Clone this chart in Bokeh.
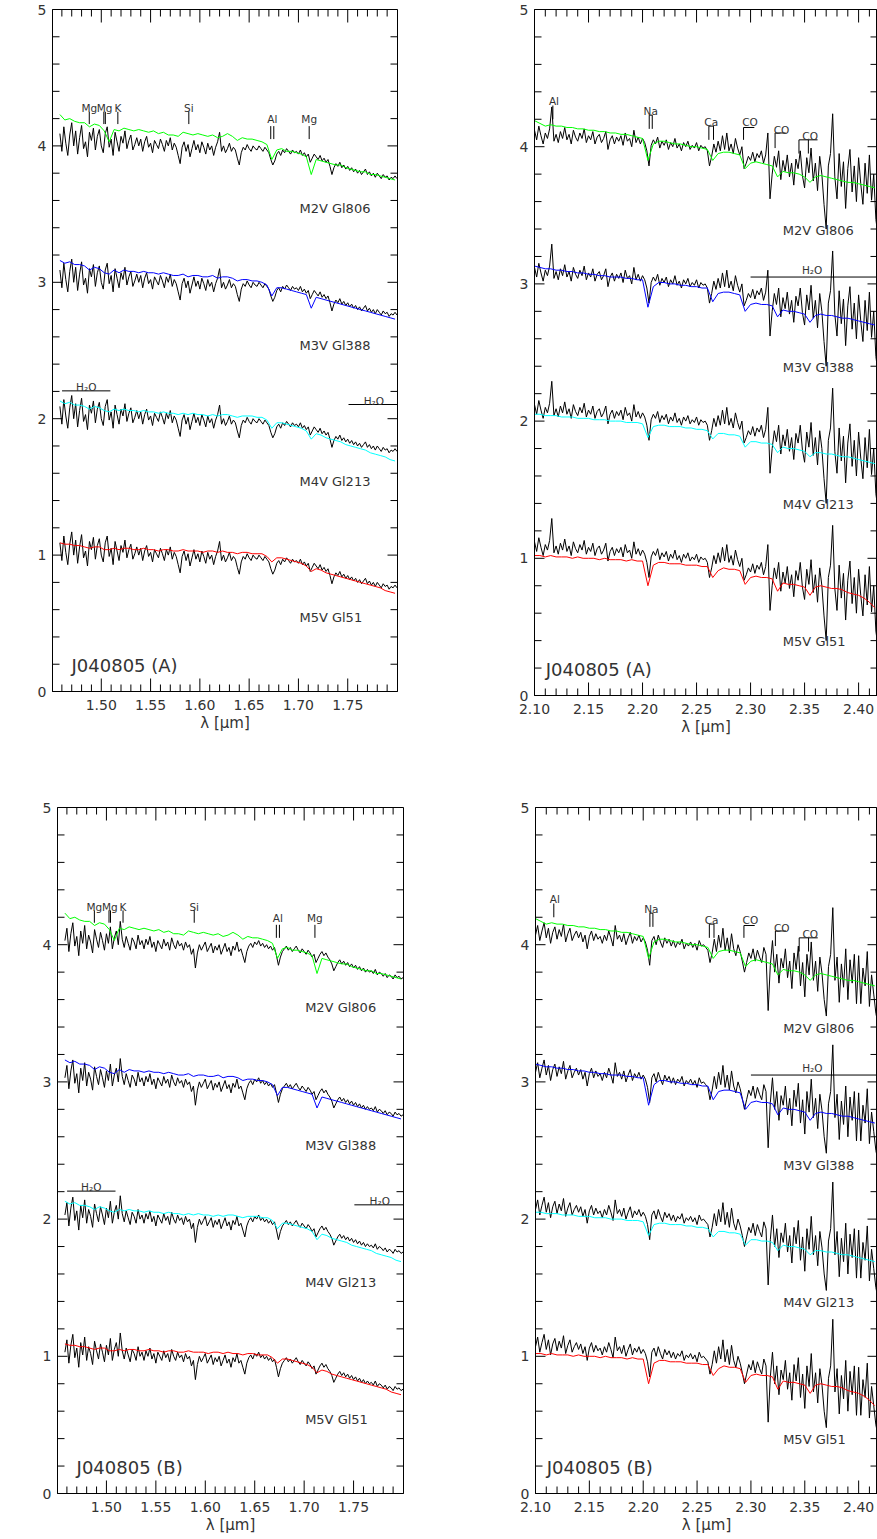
import numpy as np
from math import pi
from bokeh.plotting import figure
from bokeh.models import Range1d, FixedTicker, PrintfTickFormatter, Label
from bokeh.layouts import column, row
from bokeh.embed import file_html
from bokeh.resources import INLINE

# ------------------------------------------------------------------ data
STAR_NAMES = ["M2V  Gl806", "M3V  Gl388", "M4V  Gl213", "M5V  Gl51"]
STAR_COLORS = ["#00ff00", "#0000ff", "#00ffff", "#ff0000"]
STAR_OFFSETS = [3, 2, 1, 0]          # "+ const."
PANEL_TAGS = ["J040805 (A)", "J040805 (B)"]

H_TICKS = [1.50, 1.55, 1.60, 1.65, 1.70, 1.75]
K_TICKS = [2.10, 2.15, 2.20, 2.25, 2.30, 2.35, 2.40]
Y_TICKS = [0, 1, 2, 3, 4, 5]

# wavelength sampling (micron)
H_OBJ_START, H_OBJ_STEP, H_OBJ_N = 1.458, 0.002, 172
K_OBJ_START, K_OBJ_STEP, K_OBJ_N = 2.100, 0.002, 160
H_TPL_START, H_TPL_STEP, H_TPL_N = 1.458, 0.005, 69
K_TPL_START, K_TPL_STEP, K_TPL_N = 2.100, 0.005, 64

# object spectrum J040805, H band (normalised)
obj_H_A = [1.09, 0.96, 1.14, 1.02, 0.93, 1.08, 1.17, 1.00, 1.11, 0.94,
           1.06, 1.15, 0.98, 1.03, 0.92, 1.10, 1.04, 1.13, 0.97, 1.07,
           1.12, 1.00, 0.95, 1.09, 1.14, 0.99, 1.05, 0.93, 1.10, 1.03,
           0.96, 1.07, 1.02, 1.11, 0.98, 1.04, 1.08, 0.97, 1.01, 1.06,
           1.00, 1.05, 0.96, 1.03, 1.07, 0.99, 1.02, 0.95, 1.04, 1.01,
           0.98, 1.05, 1.01, 0.96, 1.04, 1.00, 1.06, 0.97, 1.02, 0.99,
           0.93, 0.87, 0.99, 1.03, 0.96, 1.01, 0.92, 0.98, 1.04, 0.97,
           1.01, 0.95, 1.03, 0.99, 0.94, 1.02, 0.97, 1.00, 0.93, 0.99,
           1.03, 1.10, 0.96, 1.00, 0.95, 0.98, 1.02, 0.96, 0.99, 0.97,
           0.91, 0.86, 0.95, 0.99, 0.97, 1.01, 0.98, 0.96, 1.00, 0.98,
           0.97, 1.00, 0.98, 0.96, 0.99, 0.97, 0.95, 0.90, 0.86, 0.89,
           0.94, 0.96, 0.93, 0.97, 0.95, 0.98, 0.96, 0.94, 0.97, 0.95,
           0.96, 0.94, 0.97, 0.93, 0.95, 0.92, 0.94, 0.88, 0.91, 0.94,
           0.92, 0.90, 0.93, 0.89, 0.91, 0.88, 0.90, 0.85, 0.79, 0.84,
           0.87, 0.85, 0.88, 0.84, 0.86, 0.83, 0.85, 0.82, 0.84, 0.81,
           0.83, 0.80, 0.82, 0.79, 0.81, 0.83, 0.79, 0.81, 0.78, 0.80,
           0.77, 0.80, 0.78, 0.76, 0.79, 0.77, 0.78, 0.75, 0.77, 0.76,
           0.78, 0.76]
obj_H_B = [1.03, 1.12, 0.95, 1.08, 1.16, 0.99, 1.06, 0.92, 1.10, 1.01,
           1.14, 0.97, 1.07, 1.02, 0.94, 1.11, 1.04, 0.98, 1.09, 1.03,
           0.96, 1.08, 1.01, 1.13, 0.97, 1.05, 1.10, 1.00, 1.17, 1.04,
           0.98, 1.06, 1.01, 0.96, 1.05, 1.02, 0.97, 1.07, 1.00, 1.03,
           0.97, 1.04, 1.00, 1.06, 0.98, 1.02, 0.95, 1.03, 1.00, 0.97,
           1.04, 0.99, 1.02, 0.96, 1.05, 1.00, 0.97, 1.03, 0.99, 1.01,
           0.96, 1.02, 0.98, 1.00, 0.93, 0.97, 0.83, 0.94, 1.00, 0.96,
           0.99, 1.02, 0.95, 0.98, 1.01, 0.94, 0.99, 0.96, 1.00, 0.93,
           0.97, 1.01, 0.95, 0.98, 0.92, 0.99, 0.96, 1.02, 0.95, 0.97,
           0.92, 0.87, 0.95, 0.99, 1.01, 0.98, 1.02, 1.00, 1.03, 0.99,
           1.01, 0.98, 1.00, 0.97, 0.99, 0.96, 0.98, 0.92, 0.85, 0.91,
           0.95, 0.97, 0.99, 0.96, 0.98, 0.95, 0.97, 0.99, 0.96, 0.94,
           0.97, 0.95, 0.93, 0.96, 0.94, 0.91, 0.93, 0.87, 0.90, 0.93,
           0.95, 0.92, 0.94, 0.91, 0.89, 0.86, 0.81, 0.84, 0.87, 0.89,
           0.86, 0.88, 0.85, 0.87, 0.84, 0.86, 0.83, 0.85, 0.82, 0.84,
           0.81, 0.83, 0.80, 0.82, 0.80, 0.81, 0.79, 0.82, 0.78, 0.80,
           0.79, 0.77, 0.79, 0.76, 0.78, 0.77, 0.75, 0.78, 0.76, 0.77,
           0.75, 0.76]
# object spectrum, K band
obj_K_A = [1.12, 1.05, 1.15, 1.08, 1.02, 1.10, 1.06, 1.13, 1.29, 1.04,
           1.09, 1.03, 1.11, 1.06, 1.14, 1.05, 1.09, 1.02, 1.12, 1.07,
           1.04, 1.10, 1.06, 1.13, 1.03, 1.08, 1.05, 1.11, 1.02, 1.07,
           1.09, 1.03, 1.06, 1.11, 0.98, 1.05, 1.08, 1.02, 1.07, 1.04,
           1.08, 1.01, 1.10, 1.04, 1.06, 1.00, 1.12, 1.03, 1.07, 1.02,
           1.06, 1.03, 0.97, 0.86, 1.01, 1.05, 1.02, 1.07, 0.99, 1.04,
           1.01, 1.05, 0.98, 1.03, 1.00, 1.06, 0.99, 1.02, 0.97, 1.03,
           1.00, 1.04, 0.98, 1.01, 0.99, 1.03, 0.97, 1.01, 0.99, 1.00,
           0.97, 0.86, 0.93, 1.02, 0.96, 1.04, 0.97, 1.08, 0.98, 1.10,
           0.97, 1.02, 0.95, 1.06, 0.99, 0.94, 1.00, 0.84, 0.88, 0.93,
           0.90, 0.96, 0.89, 0.95, 0.92, 0.97, 0.88, 0.94, 1.10, 0.62,
           0.80, 0.93, 0.85, 0.97, 0.76, 0.90, 0.82, 0.94, 0.78, 0.88,
           0.72, 0.91, 0.84, 0.97, 0.79, 0.70, 0.92, 0.81, 0.99, 0.75,
           0.88, 0.68, 0.93, 0.80, 0.58, 0.40, 0.86, 0.95, 1.24, 0.78,
           0.62, 0.95, 0.71, 0.89, 0.55, 0.84, 0.98, 0.67, 0.86, 0.60,
           0.92, 0.73, 0.58, 0.88, 0.66, 0.94, 0.61, 0.80, 0.47, 0.35]
obj_K_B = [1.07, 1.14, 1.03, 1.10, 1.16, 1.05, 1.12, 1.01, 1.09, 1.13,
           1.04, 1.11, 1.06, 1.15, 1.02, 1.08, 1.12, 1.03, 1.07, 1.10,
           1.05, 1.09, 1.02, 1.07, 0.97, 1.06, 1.10, 1.03, 1.08, 1.04,
           1.06, 1.01, 1.07, 1.03, 1.10, 1.05, 0.99, 1.14, 1.04, 1.07,
           1.02, 1.08, 1.00, 1.05, 1.09, 1.01, 1.06, 1.03, 1.07, 1.02,
           1.05, 1.02, 0.96, 0.85, 1.03, 1.06, 1.00, 1.07, 1.02, 0.98,
           1.05, 1.01, 1.04, 0.99, 1.03, 0.98, 1.02, 1.00, 1.04, 0.97,
           1.01, 0.99, 1.02, 0.98, 1.01, 0.96, 1.03, 0.99, 1.00, 0.98,
           0.96, 0.87, 0.94, 1.04, 0.95, 1.07, 0.98, 1.12, 0.96, 1.05,
           0.94, 1.08, 0.97, 0.92, 1.00, 0.95, 0.88, 0.80, 0.87, 0.94,
           0.90, 0.97, 0.88, 0.96, 0.91, 0.87, 0.98, 0.93, 0.52, 0.85,
           1.03, 0.80, 0.93, 0.72, 0.90, 0.83, 0.97, 0.76, 0.88, 0.68,
           0.94, 0.82, 0.99, 0.70, 0.87, 0.62, 0.93, 0.78, 1.02, 0.74,
           0.88, 0.66, 0.91, 0.79, 0.60, 0.48, 0.84, 0.93, 1.27, 0.74,
           0.91, 0.58, 0.86, 0.69, 0.97, 0.60, 0.89, 0.72, 0.93, 0.57,
           0.92, 0.57, 0.83, 0.70, 0.95, 0.55, 0.78, 0.64, 0.50, 0.42]

# template stars, H band
tpl_H_M2V = [1.23, 1.19, 1.20, 1.18, 1.17, 1.17, 1.14, 1.16, 1.15, 1.11,
             1.03, 1.12, 1.11, 1.13, 1.12, 1.11, 1.12, 1.11, 1.10, 1.11,
             1.09, 1.10, 1.08, 1.08, 1.07, 1.10, 1.09, 1.08, 1.09, 1.08,
             1.07, 1.08, 1.06, 1.07, 1.09, 1.07, 1.04, 1.06, 1.05, 1.05,
             1.04, 1.03, 1.01, 0.90, 0.97, 0.98, 0.96, 0.96, 0.95, 0.94,
             0.92, 0.79, 0.90, 0.89, 0.88, 0.87, 0.86, 0.86, 0.84, 0.83,
             0.82, 0.81, 0.81, 0.79, 0.79, 0.78, 0.77, 0.76, 0.75]
tpl_H_M3V = [1.16, 1.14, 1.15, 1.13, 1.13, 1.12, 1.09, 1.11, 1.10, 1.07,
             1.06, 1.09, 1.07, 1.09, 1.08, 1.08, 1.07, 1.08, 1.07, 1.07,
             1.06, 1.07, 1.06, 1.05, 1.05, 1.06, 1.04, 1.05, 1.05, 1.04,
             1.04, 1.05, 1.03, 1.04, 1.04, 1.03, 1.01, 1.02, 1.02, 1.01,
             1.01, 1.00, 0.98, 0.90, 0.96, 0.96, 0.95, 0.94, 0.93, 0.92,
             0.91, 0.81, 0.89, 0.88, 0.87, 0.86, 0.85, 0.84, 0.83, 0.82,
             0.81, 0.80, 0.79, 0.78, 0.77, 0.76, 0.75, 0.74, 0.73]
tpl_H_M4V = [1.13, 1.11, 1.12, 1.10, 1.10, 1.09, 1.07, 1.09, 1.08, 1.06,
             1.05, 1.07, 1.06, 1.07, 1.06, 1.06, 1.05, 1.06, 1.05, 1.05,
             1.04, 1.05, 1.04, 1.04, 1.03, 1.04, 1.03, 1.04, 1.03, 1.03,
             1.02, 1.03, 1.02, 1.03, 1.03, 1.02, 1.01, 1.02, 1.02, 1.02,
             1.01, 1.01, 0.99, 0.93, 0.97, 0.97, 0.96, 0.95, 0.94, 0.93,
             0.91, 0.85, 0.89, 0.88, 0.86, 0.85, 0.84, 0.83, 0.81, 0.80,
             0.79, 0.78, 0.77, 0.75, 0.74, 0.73, 0.72, 0.70, 0.69]
tpl_H_M5V = [1.09, 1.08, 1.08, 1.07, 1.07, 1.06, 1.05, 1.06, 1.06, 1.04,
             1.04, 1.05, 1.04, 1.05, 1.05, 1.04, 1.04, 1.05, 1.04, 1.04,
             1.03, 1.04, 1.04, 1.03, 1.03, 1.04, 1.03, 1.03, 1.03, 1.02,
             1.03, 1.03, 1.02, 1.03, 1.02, 1.02, 1.01, 1.02, 1.02, 1.01,
             1.01, 1.01, 0.99, 0.95, 0.98, 0.98, 0.97, 0.96, 0.95, 0.94,
             0.92, 0.88, 0.90, 0.89, 0.87, 0.86, 0.85, 0.84, 0.83, 0.82,
             0.81, 0.80, 0.79, 0.78, 0.77, 0.76, 0.74, 0.73, 0.72]
# template stars, K band
tpl_K_M2V = [1.19, 1.17, 1.15, 1.16, 1.15, 1.15, 1.14, 1.14, 1.13, 1.13,
             1.12, 1.12, 1.11, 1.11, 1.10, 1.10, 1.09, 1.09, 1.08, 1.07,
             1.06, 0.90, 1.02, 1.04, 1.04, 1.03, 1.02, 1.02, 1.01, 1.00,
             1.00, 0.99, 0.98, 0.90, 0.95, 0.96, 0.96, 0.95, 0.94, 0.84,
             0.88, 0.89, 0.88, 0.87, 0.86, 0.78, 0.82, 0.81, 0.81, 0.80,
             0.78, 0.74, 0.78, 0.79, 0.78, 0.77, 0.76, 0.75, 0.74, 0.74,
             0.73, 0.72, 0.71, 0.70]
tpl_K_M3V = [1.13, 1.12, 1.11, 1.11, 1.10, 1.10, 1.09, 1.09, 1.08, 1.08,
             1.07, 1.07, 1.06, 1.06, 1.05, 1.05, 1.05, 1.04, 1.04, 1.03,
             1.03, 0.83, 0.98, 1.01, 1.01, 1.00, 1.00, 0.99, 0.99, 0.98,
             0.98, 0.97, 0.97, 0.87, 0.93, 0.94, 0.94, 0.93, 0.92, 0.80,
             0.85, 0.86, 0.85, 0.85, 0.84, 0.76, 0.81, 0.80, 0.80, 0.79,
             0.78, 0.72, 0.77, 0.78, 0.77, 0.77, 0.76, 0.75, 0.75, 0.74,
             0.73, 0.72, 0.71, 0.70]
tpl_K_M4V = [1.05, 1.05, 1.04, 1.04, 1.04, 1.03, 1.03, 1.03, 1.02, 1.02,
             1.02, 1.01, 1.01, 1.01, 1.00, 1.00, 1.00, 0.99, 0.99, 0.99,
             0.98, 0.88, 0.96, 0.97, 0.97, 0.96, 0.96, 0.96, 0.95, 0.95,
             0.94, 0.94, 0.93, 0.87, 0.91, 0.91, 0.90, 0.90, 0.89, 0.81,
             0.85, 0.85, 0.84, 0.84, 0.83, 0.77, 0.81, 0.80, 0.80, 0.79,
             0.78, 0.74, 0.77, 0.77, 0.76, 0.76, 0.75, 0.74, 0.74, 0.73,
             0.72, 0.71, 0.70, 0.69]
tpl_K_M5V = [1.02, 1.02, 1.01, 1.02, 1.01, 1.01, 1.01, 1.00, 1.01, 1.00,
             1.00, 1.00, 0.99, 1.00, 0.99, 0.99, 0.99, 0.98, 0.99, 0.98,
             0.98, 0.80, 0.95, 0.97, 0.97, 0.96, 0.96, 0.96, 0.95, 0.95,
             0.95, 0.94, 0.94, 0.86, 0.91, 0.93, 0.92, 0.92, 0.91, 0.81,
             0.86, 0.87, 0.86, 0.86, 0.85, 0.76, 0.82, 0.81, 0.81, 0.80,
             0.79, 0.73, 0.79, 0.80, 0.79, 0.78, 0.78, 0.77, 0.75, 0.74,
             0.73, 0.71, 0.68, 0.64]

TPL_H = [tpl_H_M2V, tpl_H_M3V, tpl_H_M4V, tpl_H_M5V]
TPL_K = [tpl_K_M2V, tpl_K_M3V, tpl_K_M4V, tpl_K_M5V]

# line identifications (name, wavelengths in micron)
H_FEATURES_1 = [("Mg", [1.4878]), ("Mg", [1.5026, 1.5041]), ("K", [1.5168]), ("Si", [1.5888])]
H_FEATURES_2 = [("Al", [1.6719, 1.6750]), ("Mg", [1.7109])]
H2O_H = [(1.4602, 1.5092), (1.7508, 1.8005)]
K_AL = 2.1170
K_NA = [2.2062, 2.2090]
K_CA = [2.2614, 2.2657]
K_CO = [[2.2935], [2.3227], [2.3448, 2.3535]]
H2O_K = (2.30, 2.4175)

# ------------------------------------------------------------------ style
FONT = "DejaVu Sans"
TXT = "#333333"


def lab(p, x, y, text, size, align="left", baseline="alphabetic", angle=0.0):
    p.add_layout(Label(x=x, y=y, text=text, text_font=FONT, text_font_size=size,
                       text_color=TXT, text_align=align, text_baseline=baseline,
                       angle=angle))


def make_panel(band, obj, tag, fw, fh, bl, br, bt, bb, ylab_dx):
    isH = band == "H"
    x0, x1 = (1.4505, 1.8005) if isH else (2.10, 2.4175)
    p = figure(frame_width=fw, frame_height=fh,
               x_range=Range1d(x0, x1), y_range=Range1d(0, 5),
               output_backend="svg", toolbar_location=None,
               min_border_left=bl, min_border_right=br,
               min_border_top=bt, min_border_bottom=bb,
               background_fill_color="white", border_fill_color="white",
               outline_line_color="black", outline_line_width=1)
    p.grid.visible = False
    xpp = (x1 - x0) / fw
    ypp = 5.0 / fh

    majors = H_TICKS if isH else K_TICKS
    if isH:
        minors = [round(1.46 + 0.01 * i, 2) for i in range(34)]
    else:
        minors = [round(2.11 + 0.01 * i, 2) for i in range(31)]
    yminors = [round(0.2 * i, 1) for i in range(1, 25) if i % 5]
    xminors = [m for m in minors if all(abs(m - t) > 1e-6 for t in majors)]

    def style(ax):
        ax.major_tick_in = 0
        ax.major_tick_out = 0
        ax.minor_tick_in = 0
        ax.minor_tick_out = 0
        ax.axis_line_color = "black"
        ax.major_label_text_font = FONT
        ax.major_label_text_font_size = "14px"
        ax.major_label_text_color = TXT

    xb = p.below[0]
    xb.ticker = FixedTicker(ticks=majors)
    xb.formatter = PrintfTickFormatter(format="%.2f")
    style(xb)
    xb.major_label_standoff = 8
    xb.axis_label = "λ [μm]"
    xb.axis_label_text_font = FONT
    xb.axis_label_text_font_size = "15px"
    xb.axis_label_text_font_style = "normal"
    xb.axis_label_text_color = TXT
    xb.axis_label_standoff = 1

    yl = p.left[0]
    yl.ticker = FixedTicker(ticks=Y_TICKS)
    style(yl)
    yl.major_label_standoff = 6

    # inward tick marks on all four sides (from the tick lists)
    tk = dict(line_color="black", line_width=1)
    n, m = len(majors), len(xminors)
    p.segment(majors, [0] * n, majors, [13 * ypp] * n, **tk)
    p.segment(majors, [5] * n, majors, [5 - 13 * ypp] * n, **tk)
    p.segment(xminors, [0] * m, xminors, [7 * ypp] * m, **tk)
    p.segment(xminors, [5] * m, xminors, [5 - 7 * ypp] * m, **tk)
    k, q = len(Y_TICKS), len(yminors)
    p.segment([x0] * k, Y_TICKS, [x0 + 10 * xpp] * k, Y_TICKS, **tk)
    p.segment([x1] * k, Y_TICKS, [x1 - 10 * xpp] * k, Y_TICKS, **tk)
    p.segment([x0] * q, yminors, [x0 + 7 * xpp] * q, yminors, **tk)
    p.segment([x1] * q, yminors, [x1 - 7 * xpp] * q, yminors, **tk)

    # spectra
    if isH:
        ow = [H_OBJ_START + H_OBJ_STEP * i for i in range(H_OBJ_N)]
        tw = [H_TPL_START + H_TPL_STEP * i for i in range(H_TPL_N)]
        tpls = TPL_H
    else:
        ow = [K_OBJ_START + K_OBJ_STEP * i for i in range(K_OBJ_N)]
        tw = [K_TPL_START + K_TPL_STEP * i for i in range(K_TPL_N)]
        tpls = TPL_K
    for name, col, off, tpl in zip(STAR_NAMES, STAR_COLORS, STAR_OFFSETS, tpls):
        p.line(ow, np.array(obj) + off, line_color="black", line_width=1)
        p.line(tw, np.array(tpl) + off, line_color=col, line_width=1)
        if isH:
            lab(p, 1.701, off + 0.54, name, "13px")
        else:
            lab(p, 2.3299, off + 0.39, name, "13px")

    # line identifications
    if isH:
        for nm, ws in H_FEATURES_1:
            p.segment(ws, [4.16] * len(ws), ws, [4.25] * len(ws), line_color="black", line_width=1)
            lab(p, sum(ws) / len(ws), 4.276, nm, "10.5px", align="center")
        for nm, ws in H_FEATURES_2:
            p.segment(ws, [4.05] * len(ws), ws, [4.145] * len(ws), line_color="black", line_width=1)
            lab(p, sum(ws) / len(ws), 4.198, nm, "10.5px", align="center")
        (a0, a1), (b0, b1) = H2O_H
        p.segment([a0, b0], [2.204, 2.104], [a1, b1], [2.204, 2.104], line_color="black", line_width=1)
        lab(p, (a0 + a1) / 2, 2.233, "H₂O", "10.5px", align="center")
        lab(p, 1.7765, 2.133, "H₂O", "10.5px", align="center")
    else:
        p.segment([K_AL], [4.20], [K_AL], [4.30], line_color="black", line_width=1)
        lab(p, K_AL + 0.001, 4.33, "Al", "10.5px", align="center")
        for ws, ylo, yhi, nm, ytx in [(K_NA, 4.13, 4.23, "Na", 4.26), (K_CA, 4.05, 4.15, "Ca", 4.18)]:
            p.multi_line([[ws[0], ws[0], ws[1], ws[1]]], [[ylo, yhi, yhi, ylo]],
                         line_color="black", line_width=1)
            lab(p, (ws[0] + ws[1]) / 2, ytx, nm, "10.5px", align="center")
        co_geom = [(4.05, 4.14, 0.0100, 4.18), (3.99, 4.10, 0.0098, 4.125), (3.95, 4.05, 0.0172, 4.08)]
        for ws, (ylo, yhi, blen, ytx) in zip(K_CO, co_geom):
            p.segment(ws, [ylo] * len(ws), ws, [yhi] * len(ws), line_color="black", line_width=1)
            p.segment([ws[0]], [yhi], [ws[0] + blen], [yhi], line_color="black", line_width=1)
            lab(p, ws[0] + blen * 0.6, ytx, "CO", "10.5px", align="center")
        p.segment([H2O_K[0]], [3.05], [H2O_K[1]], [3.05], line_color="black", line_width=1)
        lab(p, 2.357, 3.10, "H₂O", "10.5px", align="center")

    # object tag
    if isH:
        lab(p, 1.4698, 0.193, tag, "18px")
    else:
        lab(p, 2.1104, 0.186, tag, "18px")

    # composite y-axis label  "Normalised F_λ + const."
    xl = x0 + ylab_dx * xpp
    P = 2.5 + 12.3 * ypp
    lab(p, xl, P, "Normalised F", "15px", align="right", baseline="middle", angle=pi / 2)
    lab(p, xl + 4 * xpp, P + 0.5 * ypp, "λ", "11px", align="left", baseline="middle", angle=pi / 2)
    lab(p, xl, P + 11.8 * ypp, "+ const.", "15px", align="left", baseline="middle", angle=pi / 2)
    return p


# frame_width, frame_height, border left/right/top/bottom, y-label offset (px)
p1 = make_panel("H", obj_H_A, PANEL_TAGS[0], 345, 682, 52, 11, 9, 102, -34)
p2 = make_panel("K", obj_K_A, PANEL_TAGS[0], 343, 686, 126, 0, 9, 98, -31)
p3 = make_panel("H", obj_H_B, PANEL_TAGS[1], 346, 686, 57, 5, 10, 46, -34)
p4 = make_panel("K", obj_K_B, PANEL_TAGS[1], 342, 686, 127, 0, 14, 42, -32)

layout = column(row(p1, p2), row(p3, p4))
open("out.html", "w").write(file_html(layout, INLINE))
